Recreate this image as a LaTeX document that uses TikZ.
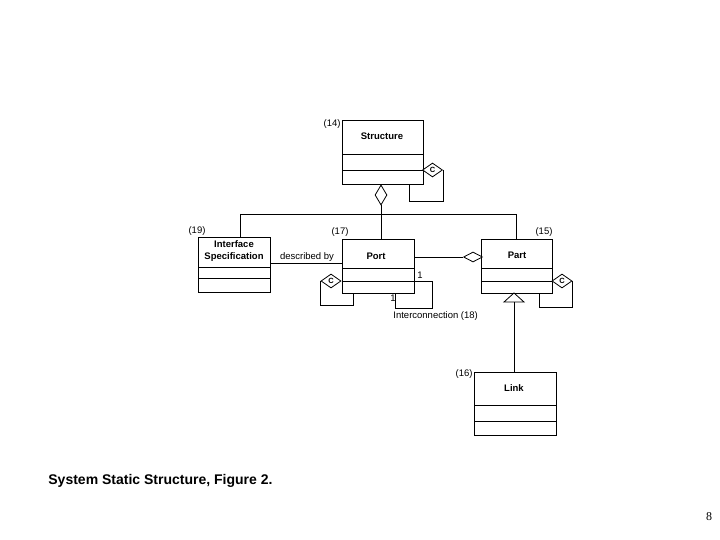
\documentclass[tikz,border=0pt]{standalone}
\usepackage{fontspec}
\setmainfont{Liberation Sans}
\newfontfamily\serifnum{Liberation Serif}
\usetikzlibrary{shapes.geometric}
\begin{document}
\begin{tikzpicture}[x=1pt,y=-1pt,line width=0.8pt,
  cls/.style={draw,rectangle,anchor=north west,inner sep=0pt},
  cdia/.style={draw,diamond,fill=white,inner sep=0pt,minimum width=20pt,minimum height=14pt,font=\fontsize{7.5}{7.5}\selectfont\bfseries},
  agg/.style={draw,diamond,fill=white,inner sep=0pt},
  lbl/.style={font=\fontsize{9.5}{11}\selectfont,inner sep=0pt},
  cname/.style={font=\fontsize{9.5}{12}\selectfont\bfseries,inner sep=0pt,align=center}]
\useasboundingbox (0,0) rectangle (720,540);
% class boxes
\node[cls,minimum width=81pt,minimum height=64pt] (structure) at (342,120) {};
\node[cls,minimum width=72pt,minimum height=55pt] (iface) at (198,237) {};
\node[cls,minimum width=72pt,minimum height=54pt] (port) at (342,239) {};
\node[cls,minimum width=71pt,minimum height=54pt] (part) at (481,239) {};
\node[cls,minimum width=82pt,minimum height=63pt] (link) at (474,372) {};
% compartments
\draw (structure.west |- 0,154) -- (structure.east |- 0,154);
\draw (structure.west |- 0,170) -- (structure.east |- 0,170);
\draw (iface.west |- 0,267) -- (iface.east |- 0,267);
\draw (iface.west |- 0,278) -- (iface.east |- 0,278);
\draw (port.west |- 0,268) -- (port.east |- 0,268);
\draw (port.west |- 0,281) -- (port.east |- 0,281);
\draw (part.west |- 0,268) -- (part.east |- 0,268);
\draw (part.west |- 0,281) -- (part.east |- 0,281);
\draw (link.west |- 0,405) -- (link.east |- 0,405);
\draw (link.west |- 0,421) -- (link.east |- 0,421);
% names
\node[cname] (nstructure) at (382,136) {Structure};
\node[cname] (niface) at (234,251) {Interface\\Specification};
\node[cname] (nport) at (376,256) {Port};
\node[cname] (npart) at (517,255) {Part};
\node[cname] (nlink) at (514,388) {Link};
% numbers
\node[lbl,anchor=east] (n14) at (341,124) {(14)};
\node[lbl] (n17) at (340,232) {(17)};
\node[lbl] (n19) at (197,231) {(19)};
\node[lbl] (n15) at (544,232) {(15)};
\node[lbl,anchor=east] (n16) at (473,374) {(16)};
% aggregation Structure
\node[agg,minimum width=12pt,minimum height=20pt] (sagg) at (381,195) {};
\coordinate (hl) at (240,214);
\coordinate (hm) at (381,214);
\coordinate (hr) at (516,214);
\draw (sagg.south) -- (hm);
\draw (hl) -- (hr);
\draw (hl) -- (hl |- iface.north);
\draw (hm) -- (hm |- port.north);
\draw (hr) -- (hr |- part.north);
% Structure self loop
\node[cdia] (sc) at (432.5,170) {C};
\coordinate (s1) at (442,201);
\coordinate (s2) at (409,201);
\draw (sc.east) -- (sc.east |- s1) -- (s2) -- (s2 |- structure.south);
% described by
\draw (iface.east |- 0,263) -- (port.west |- 0,263);
\node[lbl] (desc) at (307,257) {described by};
% Port - Part aggregation
\node[agg,minimum width=19pt,minimum height=10pt] (pagg) at (473,257) {};
\draw (port.east |- pagg.west) -- (pagg.west);
% Port self loop
\node[cdia] (pc) at (331,281) {C};
\coordinate (p1) at (353,305);
\draw (pc.west) -- (pc.west |- p1) -- (p1) -- (p1 |- port.south);
% Interconnection loop
\coordinate (i1) at (432,281);
\coordinate (i2) at (432,308);
\coordinate (i3) at (395,308);
\draw (port.east |- i1) -- (i1) -- (i2) -- (i3) -- (i3 |- port.south);
\node[lbl] (one1) at (420,275) {1};
\node[lbl] (one2) at (393,298) {1};
\node[lbl,anchor=west] (inter) at (393,316) {Interconnection (18)};
% Part self loop
\node[cdia] (rc) at (562,281) {C};
\coordinate (r1) at (539,307);
\draw (rc.east) -- (rc.east |- r1) -- (r1) -- (r1 |- part.south);
% generalization
\coordinate (tapex) at (514,293);
\coordinate (tbase) at (514,302);
\draw[fill=white] (tapex) -- (504,302) -- (524,302) -- cycle;
\draw (tbase) -- (tbase |- link.north);
% caption
\node[anchor=west,inner sep=0pt,font=\fontsize{14}{16}\selectfont\bfseries] (cap) at (48,481) {System Static Structure, Figure 2.};
\node[inner sep=0pt,font=\fontsize{12}{14}\selectfont\serifnum] (pg) at (709,517) {8};
\end{tikzpicture}
\end{document}
